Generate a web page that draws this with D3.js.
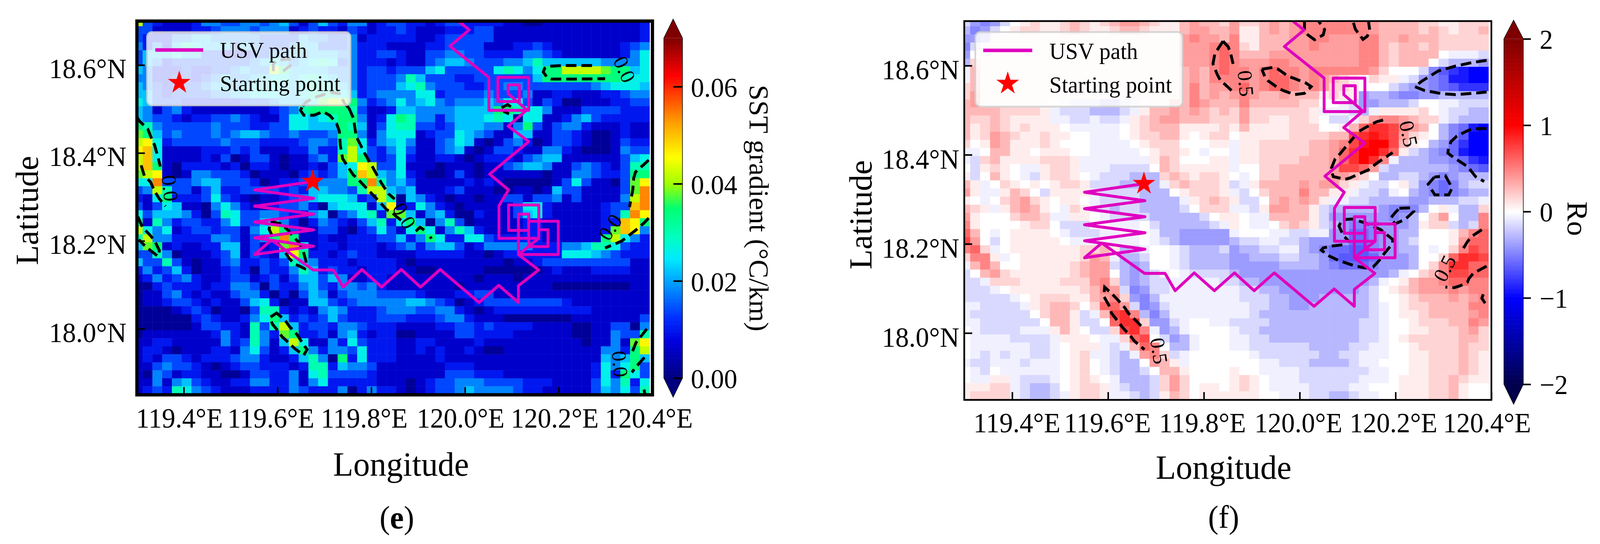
<!DOCTYPE html>
<html><head><meta charset="utf-8">
<script src="https://cdn.jsdelivr.net/npm/d3@7/dist/d3.min.js"></script>
<style>html,body{margin:0;padding:0;background:#fff;overflow:hidden;width:100%;height:100%}svg{display:block;width:100vw;height:100vh}text{font-family:"Liberation Serif","Times New Roman",serif;fill:#000}</style>
</head><body><svg id="c" viewBox="0 0 4213 1393" preserveAspectRatio="none"></svg>
<script>
// ---------- data ----------
const lonTicks=[119.4,119.6,119.8,120.0,120.2,120.4];
const latTicks=[18.0,18.2,18.4,18.6];
const sstTicks=[0,0.02,0.04,0.06];
const roTicks=[-2,-1,0,1,2];
const lonDomain=[119.3,120.4];
const latDomain=[17.85,18.7];
const gridLon0=119.2915, gridLat0=18.7066, gridDLon=0.0208, gridDLat=0.0182;

// SST gradient: one hex digit per cell, value = (digit + 0.5) * 0.004 degC/km. Left 27 cols | right 26 cols.
const sstRows=[
"a32111244334434531353244123|32212332222110011111111112",
"331111223444344412322132122|32111222331111111111111112",
"322244554444433335443341222|22112333331111111111111112",
"424257655535433345533342221|11122333311122321111111234",
"355565533222334444555442233|21133443322224432111111246",
"354233333333456545676342221|21134554333445755555544446",
"54222322334544a855554442332|33356333336764688aaaa98856",
"442233234544556656765442333|47533322333333588888888766",
"543223345545656556776542333|56743332233443333333456665",
"553233334455666556777652344|44662333343334112211122344",
"65333222222333455569aa84234|64564344454663132001112233",
"541342111111112347888873112|55444455558876641113333222",
"543321223343211366567884126|87442455567606611245322222",
"874333334333223366555875136|77332355544148313442111211",
"985343334345543343334884146|66123365431155113321001211",
"ab6233333433322223443796245|64113465101342013321001322",
"bc61111222323111224227a6324|63113451013321144210001433",
"ac61111213013310113429a8323|62112210122213455111111356",
"ac810222212022101121356ba33|61110111011345541134321377",
"9ab10144333201110232358ca54|62100131011111101144322388",
"66d333455333201223344488d74|5311111212100000136311039b",
"34a733135223333232554437aa5|4511123111001101533111139d",
"2168222363210112345666523a7|054210110113313341311114ad",
"31365110464211233420566615b|126421011111366211111233cd",
"635554203763344322450346729|951452002111356211111237db",
"817423322463356420243213572|68504730111112211111122cb8",
"a6461233233146a831133102363|16861475211112211111129cb4",
"7a4422224431348d81121122233|5248622663222221111118a642",
"5981211225513129d6122122212|34245531244444222445776322",
"3374011123513215b8221232211|11222221101222222666543222",
"533731011342232375422212222|10111111111011233333333311",
"242352011232032247523221222|11001111100000012111222211",
"124234211233123135535411221|11111111011101111111111111",
"002322212244303224532443421|11111101111111110000000011",
"011342121134420203541344433|33211122331111111111111111",
"011233212113562011553234444|45543201233333333211111111",
"000012320110377212145422234|44334421012222222222111111",
"000000232112468523235322233|32223442111000000011111113",
"000000133221737a52332443222|11112233232222111100113304",
"011111112421742982231452122|00111133222211111100114337",
"1122111114237415a6114263222|1122111121111111111011419b",
"122101112214631258424436222|1121211210011111111114428a",
"121332122234421125740826222|11112111111111111111154585",
"113433210123322212772544311|11111222111111111111264683",
"104312211001332241673333211|11111333222111111111262863",
"114145321122442241462222211|10123344433332221111364726",
"123276432111222243222402422|10123345444432211111354637"];

// Rossby number: one symbol per cell, decoded through roLevels. Left 27 cols | right 26 cols.
const roSymbols="JIHGFEDCBA0123456789a";
const roLevels=[-1,-0.9,-0.8,-0.65,-0.58,-0.48,-0.39,-0.28,-0.15,-0.06,0,0.07,0.17,0.28,0.38,0.48,0.6,0.72,0.82,0.92,1];
const roRows=[
"BDEDB0121123212344321134332|42234345555555433332211222",
"CEDB01221123211233211134433|41134345555555433332321223",
"DDC111111111111111111145443|51133344554445533433322222",
"EB1111111111111111111144456|52133344544445532332322222",
"D01111111111111111111144456|5333444444444553233330AAAB",
"C21111111111111111111144456|544455444444455323330BCCCD",
"A31111111111111111111134356|5545655455555542000BEGHIJJ",
"A31111111111111111111134355|55456654543210211ABDEFIIJJ",
"231111111111111111111135344|5645665454221000BCDDEFGHHH",
"241111111111111111111135343|4543343331211DCCDEEDDCCCCC",
"3411111110ABBBCCBA011335433|35333332200ABDDCCCB00AABBB",
"333322221ABBBCCCBA133434323|242222221AAABCA111120ABBCC",
"322321111AABBABBA1234433322|2422112210BBA24554322ABCCC",
"31232121110AAAAA01233311112|131111222001368875430CEFIJ",
"3124321121100AAA01223310122|011111222233789874210CEGJJ",
"2014311121000AAAA0122200011|A1122222334579aa7310CDFHJJ",
"AA03311011100AAAAA012210A00|A112222233468aa861BCDEFIJJ",
"AB2311112221AAAAAAA13200011|A112222333468a85ACCCDDEFHI",
"0B1210AA1221AAABBBB03211111|A00223333347764BCCCCCCDEFG",
"1B0310AB12210ABBBCCC2321221|0A0223333344320CCBBCDEDCCC",
"31A0210101221BBBCCCCA232221|BA13333434421ABB01BDEFECBB",
"41AA1320B1111ABBBBCCC012221|AB0233353311ABBCA0CDEFEDCC",
"10A0234210110ABBBBCCCCA1232|1BB0343431AABBCCCCDDCCCBBA",
"321A134310A21ABCBBCCCCB0222|AAB144331BCCCCCDEEEC01ACC2",
"410002332AA110ABBBBCCCCCB01|10AA33331BDDDDDDEDC0240CC5",
"5100001220BBB00AAA0BCCCCCBA|10AA02321BCDEEEDDDC122BCB5",
"630A011110ABBBAA0A0ACCDDDDD|A000AABBAADDFFEDDCC0001356",
"740B0111110AAA0AAA0ABCDDDDD|CBBAABBCDDDDFFEDDCB0001466",
"562A011111112231CBA00ABCCCB|DCCBBAACDEFFGGEDDCC0A02576",
"2551A0111111243ACCB00ABCCCC|DDCCCBBCCDFGGGFDDDC0026887",
"A35300111112344BCDC00ABCCCC|DDDDDCCCCDEFFFEDDDC0258866",
"B034211111123440CDCBA0ABBBB|CDDDDDDDDDDDDDDDCA02357766",
"BBA2221111222452CDCBBAAAAAB|BCCDDDDDDDDDDDCA0134456655",
"BBBA011111112354BEDBBAAAAAA|ABBCCDDDDDDDDCB01234445455",
"BBBBBA01222113452DECAAAAAAA|ABBBCCDDDCCCCCB00123334345",
"AABBBBA1233202664BEDBAAAAAA|AABBCCDDCCCCCCBA0122333355",
"ABBBBBB02331BA3785CECAAAAAA|AABCCCCCCCCCCCBA0112333345",
"AABBBBBB0331BB06882DDBA00AA|BBBBCCCCCCCCCBBA0012223354",
"0ABBBBAAA1310BB2785ADCA0000|ABBCCCCCCCCCCBBA0011222342",
"0AAAABBBBA1110AA2670BDCA000|AABBCCCCCCCCCBBA0122222332",
"0AAAAAABBA0111ABA3650CCA000|AABBBBBBCCCCBBAA0012222322",
"0ABABAABBA012AABCA452BA0000|00ABBBBBBCCBBAAA0011222321",
"ABBAAABAAA0120ABCC0431A0000|000AABBBCCCCBAA00011222321",
"0AB0AAAAAA0120ABCCB03310000|100AAAABBBBBBBAA0011222321",
"0AA11ABBBA01210ACCCB2420000|1210AAABBBBBBAAA0111223211",
"11122ABCCB01221ABCCB2420110|1210AAAABBBBAA000111223100",
"12222ABCCBA1221AABCB1320111|11100AAABBCCBAA00111223100"];

const pathLon=[119.675,119.551,119.677,119.551,119.677,119.551,119.677,119.551,119.677,119.551,119.587,119.676,119.719,119.74,119.78,119.822,119.864,119.905,119.947,120.03,120.072,120.114,120.114,120.157,120.114,120.1575,120.1575,120.177,120.177,120.136,120.136,120.199,120.199,120.114,120.114,120.136,120.136,120.093,120.093,120.1575,120.1575,120.0725,120.0725,120.093,120.0526,120.136,120.092,120.132,120.092,120.092,120.116,120.116,120.07,120.07,120.136,120.136,120.051,120.051,119.968,120.009,119.988,119.97];
const pathLat=[18.335,18.316,18.297,18.279,18.261,18.243,18.225,18.207,18.188,18.169,18.202,18.134,18.134,18.095,18.135,18.095,18.135,18.095,18.135,18.06,18.099,18.06,18.098,18.134,18.169,18.206,18.2255,18.2255,18.187,18.187,18.2447,18.2447,18.169,18.169,18.261,18.261,18.224,18.224,18.2818,18.2818,18.206,18.206,18.28,18.316,18.352,18.426,18.461,18.498,18.535,18.555,18.555,18.517,18.517,18.572,18.572,18.497,18.497,18.572,18.643,18.68,18.698,18.72];
const startPoint=[119.675,18.335];

const eContours=[
[[119.300,18.482],[119.305,18.473],[119.323,18.455],[119.332,18.431],[119.338,18.417],[119.345,18.390],[119.350,18.369]],
[[119.309,18.372],[119.316,18.348],[119.329,18.334],[119.338,18.313],[119.347,18.297],[119.361,18.279]],
[[119.302,18.255],[119.312,18.231],[119.329,18.212],[119.338,18.200],[119.348,18.178],[119.345,18.165],[119.327,18.180],[119.316,18.190],[119.304,18.203]],
[[119.652,18.504],[119.649,18.497],[119.656,18.486],[119.678,18.486],[119.697,18.494],[119.712,18.485],[119.726,18.467],[119.732,18.449],[119.734,18.417],[119.739,18.387],[119.750,18.369],[119.761,18.351],[119.772,18.340],[119.788,18.322],[119.815,18.292],[119.833,18.271],[119.844,18.265],[119.854,18.255],[119.872,18.240]],
[[119.895,18.222],[119.904,18.231],[119.917,18.222]],
[[119.926,18.210],[119.928,18.205]],
[[119.752,18.503],[119.762,18.479],[119.768,18.437],[119.775,18.423],[119.786,18.399],[119.804,18.366],[119.822,18.331],[119.837,18.307],[119.850,18.295]],
[[119.752,18.503],[119.744,18.511],[119.732,18.535],[119.714,18.538],[119.678,18.526],[119.661,18.516],[119.652,18.504]],
[[119.591,18.586],[119.591,18.603],[119.602,18.611],[119.625,18.614],[119.631,18.602],[119.612,18.586]],
[[119.585,18.242],[119.591,18.243],[119.607,18.239],[119.623,18.224],[119.632,18.212],[119.645,18.197],[119.654,18.180],[119.661,18.153],[119.658,18.137],[119.636,18.148],[119.625,18.160],[119.611,18.183],[119.600,18.194],[119.587,18.215],[119.582,18.227],[119.585,18.242]],
[[119.591,18.031],[119.598,18.036],[119.616,18.020],[119.625,18.006],[119.641,17.988],[119.649,17.975],[119.663,17.953],[119.656,17.940],[119.638,17.954],[119.627,17.965],[119.609,17.983],[119.602,17.994],[119.589,18.011],[119.584,18.026],[119.591,18.031]],
[[120.271,18.599],[120.208,18.599],[120.176,18.597],[120.170,18.593],[120.167,18.584],[120.176,18.571],[120.185,18.568],[120.223,18.568],[120.299,18.569]],
[[120.078,18.503],[120.091,18.510],[120.101,18.503]],
[[120.082,18.495],[120.094,18.489]],
[[120.392,18.384],[120.382,18.374],[120.364,18.357],[120.360,18.343],[120.358,18.316],[120.351,18.277]],
[[120.392,18.252],[120.383,18.242],[120.365,18.225],[120.353,18.215],[120.335,18.200],[120.322,18.194],[120.299,18.184]],
[[120.388,18.000],[120.374,17.981],[120.365,17.969],[120.356,17.945]],
[[120.383,17.935],[120.367,17.916],[120.356,17.901]],
[[120.382,17.862],[120.384,17.850]]];
const fContours=[
[[120.010,18.705],[120.010,18.680],[120.017,18.669],[120.031,18.658],[120.049,18.669],[120.052,18.681],[120.042,18.696],[120.036,18.705]],
[[120.143,18.705],[120.146,18.680],[120.141,18.666],[120.132,18.659],[120.116,18.682],[120.112,18.697]],
[[119.840,18.655],[119.851,18.642],[119.856,18.627],[119.861,18.604]],
[[119.840,18.655],[119.823,18.627],[119.819,18.604],[119.828,18.580],[119.835,18.566],[119.845,18.557],[119.865,18.537]],
[[119.921,18.592],[119.944,18.596],[119.955,18.592],[119.976,18.576],[119.987,18.572],[120.013,18.561],[120.024,18.553],[120.010,18.538],[119.989,18.535],[119.966,18.544],[119.955,18.550],[119.934,18.566],[119.927,18.576],[119.921,18.592]],
[[120.39,18.612],[120.360,18.607],[120.325,18.599],[120.289,18.588],[120.256,18.566],[120.240,18.553],[120.261,18.544],[120.298,18.537],[120.325,18.535],[120.373,18.539],[120.39,18.541]],
[[120.174,18.478],[120.160,18.474],[120.137,18.461],[120.123,18.452],[120.109,18.434],[120.100,18.423],[120.084,18.402],[120.074,18.391],[120.065,18.367],[120.070,18.351],[120.095,18.345],[120.105,18.348],[120.130,18.360],[120.143,18.366],[120.162,18.382],[120.194,18.405]],
[[120.39,18.459],[120.360,18.458],[120.348,18.453],[120.328,18.442],[120.316,18.430],[120.311,18.417],[120.309,18.404],[120.320,18.395],[120.341,18.380],[120.351,18.373],[120.367,18.351],[120.385,18.340]],
[[120.281,18.350],[120.268,18.334],[120.282,18.310],[120.311,18.310],[120.318,18.326],[120.304,18.353],[120.281,18.350]],
[[120.208,18.280],[120.233,18.281],[120.238,18.273],[120.220,18.255],[120.199,18.245],[120.190,18.258],[120.199,18.270],[120.208,18.280]],
[[120.089,18.198],[120.065,18.195],[120.049,18.191],[120.045,18.186],[120.063,18.172],[120.081,18.163],[120.114,18.151],[120.137,18.146],[120.153,18.148],[120.166,18.163],[120.176,18.178],[120.194,18.201],[120.194,18.210],[120.169,18.232],[120.134,18.248],[120.109,18.256],[120.088,18.254],[120.082,18.240],[120.091,18.219],[120.104,18.204]],
[[120.380,18.232],[120.358,18.216],[120.350,18.205],[120.337,18.182]],
[[120.39,18.150],[120.362,18.134],[120.353,18.122],[120.350,18.114],[120.335,18.106],[120.323,18.102],[120.304,18.103]],
[[120.383,18.087],[120.380,18.078],[120.387,18.067]],
[[119.669,18.016],[119.660,18.026],[119.642,18.045],[119.635,18.057],[119.619,18.076],[119.609,18.087],[119.593,18.103],[119.591,18.083],[119.604,18.058],[119.607,18.045],[119.623,18.023],[119.630,18.013],[119.648,17.992],[119.655,17.982],[119.676,17.963]]];
// contour labels: text, lon, lat, rotation
const eLabels=[["0.0",119.37,18.32,84],["0.0",120.34,18.59,65],["0.0",119.87,18.257,60],["0.0",120.31,18.231,-56],["0.0",120.33,17.92,85]];
const fLabels=[["0.5",119.887,18.56,85],["0.5",120.227,18.447,78],["0.5",119.706,17.96,81],["0.5",120.303,18.145,-63]];

// ---------- colours ----------
const jet=d3.scaleLinear()
 .domain([0,0.0077,0.0125,0.0245,0.029,0.035,0.04,0.0455,0.0525,0.0623,0.07])
 .range(["#00007f","#0000e0","#0030ff","#00eaff","#00ffc0","#00ff70","#a0ff00","#ffff00","#ffa000","#ff0000","#7f0000"]).clamp(true);
const seismic=d3.scaleLinear().domain([-2,-1,0,1,2]).range(["#00004c","#0000ff","#ffffff","#ff0000","#7f0000"]).clamp(true);
const decodeSst=ch=>(parseInt(ch,16)+0.5)*0.004;
const decodeRo=ch=>roLevels[roSymbols.indexOf(ch)];

const svg=d3.select("#c");
svg.append("rect").attr("width",4213).attr("height",1393).attr("fill","#fff");
const INK="#df00bf";

function panel(o){
 const x=d3.scaleLinear().domain(lonDomain).range(o.xr), y=d3.scaleLinear().domain(latDomain).range(o.yr);
 const g=svg.append("g");
 const id="clip"+o.key;
 g.append("clipPath").attr("id",id).append("rect").attr("x",o.xr[0]).attr("y",o.yr[1]).attr("width",o.xr[1]-o.xr[0]).attr("height",o.yr[0]-o.yr[1]);
 const plot=g.append("g").attr("clip-path",`url(#${id})`);
 // heat cells
 const cells=[];
 o.rows.forEach((row,r)=>{
  const [l,rt]=row.split("|");
  [...l].slice(0,27).forEach((ch,c)=>cells.push({r,c,v:o.decode(ch)}));
  [...rt].slice(0,26).forEach((ch,c)=>cells.push({r,c:c+27,v:o.decode(ch)}));
 });
 plot.append("g").selectAll("rect").data(cells).join("rect")
  .attr("x",d=>x(gridLon0+d.c*gridDLon)).attr("y",d=>y(gridLat0-d.r*gridDLat))
  .attr("width",d=>x(gridLon0+(d.c+1)*gridDLon)-x(gridLon0+d.c*gridDLon)+0.5)
  .attr("height",d=>y(gridLat0-(d.r+1)*gridDLat)-y(gridLat0-d.r*gridDLat)+0.5)
  .attr("fill",d=>o.color(d.v));
 // contours
 const line=d3.line().x(d=>x(d[0])).y(d=>y(d[1]));
 plot.append("g").selectAll("path").data(o.contours).join("path").attr("d",line)
  .attr("fill","none").attr("stroke","#000").attr("stroke-width",7.5).attr("stroke-dasharray","28 13");
 plot.append("g").selectAll("text").data(o.labels).join("text")
  .attr("transform",d=>`translate(${x(d[1])},${y(d[2])}) rotate(${d[3]})`)
  .attr("text-anchor","middle").attr("dy","0.33em").style("font-size","54px").text(d=>d[0]);
 // path
 const pts=pathLon.map((v,i)=>[v,pathLat[i]]);
 plot.append("path").attr("d",line(pts)).attr("fill","none").attr("stroke",INK).attr("stroke-width",7.5).attr("stroke-linejoin","round");
 const star=d3.symbol().type(d3.symbolStar).size(1100);
 g.append("path").attr("d",star()).attr("transform",`translate(${x(startPoint[0])},${y(startPoint[1])})`).attr("fill","#ff0000");
 // legend
 const L=o.legend;
 g.append("rect").attr("x",L.x0).attr("y",L.y0).attr("width",L.x1-L.x0).attr("height",L.y1-L.y0).attr("rx",13)
  .attr("fill","#fff").attr("fill-opacity",0.8).attr("stroke","#ccc").attr("stroke-opacity",0.8).attr("stroke-width",4.5);
 g.append("line").attr("x1",L.lx0).attr("x2",L.lx1).attr("y1",L.ly).attr("y2",L.ly).attr("stroke",INK).attr("stroke-width",9);
 g.append("path").attr("d",star()).attr("transform",`translate(${(L.lx0+L.lx1)/2},${L.sy})`).attr("fill","#ff0000");
 g.append("text").attr("x",L.tx).attr("y",L.b1).style("font-size",L.fs+"px").text("USV path");
 g.append("text").attr("x",L.tx).attr("y",L.b2).style("font-size",L.fs+"px").text("Starting point");
 // axes
 const ax=g.append("g").attr("transform",`translate(0,${o.yr[0]})`)
  .call(d3.axisBottom(x).tickValues(lonTicks).tickSizeInner(-20).tickSizeOuter(0).tickFormat(d=>d.toFixed(1)+"°E"));
 const ay=g.append("g").attr("transform",`translate(${o.xr[0]},0)`)
  .call(d3.axisLeft(y).tickValues(latTicks).tickSizeInner(-21).tickSizeOuter(0).tickFormat(d=>d.toFixed(1)+"°N"));
 [ax,ay].forEach(a=>{a.select(".domain").remove();a.selectAll("line").attr("stroke","#000").attr("stroke-width",4);
  a.selectAll("text").style("font-size","71px").style("font-family",'"Liberation Serif"').attr("fill","#000");});
 ax.selectAll("text").attr("y",o.xLabelBase-o.yr[0]).attr("dy",0).attr("dx",(d,i)=>o.xLabelDx[i]);
 ay.selectAll("text").attr("x",o.yLabelEnd-o.xr[0]).attr("dy",o.yLabelDy);
 // frame
 g.append("rect").attr("x",o.xr[0]).attr("y",o.yr[1]).attr("width",o.xr[1]-o.xr[0]).attr("height",o.yr[0]-o.yr[1])
  .attr("fill","none").attr("stroke","#000").attr("stroke-width",o.frame);
 // axis titles
 g.append("text").attr("x",o.lonX).attr("y",o.lonY).attr("text-anchor","middle").style("font-size","87px").text("Longitude");
 g.append("text").attr("transform",`translate(${o.latX},${o.latY}) rotate(-90)`).attr("text-anchor","middle").style("font-size","84px").text("Latitude");
 // caption
 const cap=g.append("text").attr("x",o.lonX-o.capDx).attr("y",o.capY).attr("text-anchor","middle").style("font-size","82px");
 cap.append("tspan").text("(");
 cap.append("tspan").attr("font-weight",o.capBold?"bold":"normal").text(o.capLetter);
 cap.append("tspan").text(")");
 // colourbar
 const C=o.cb, cy=d3.scaleLinear().domain(C.domain).range(C.range);
 const n=240, cb=g.append("g");
 cb.selectAll("rect").data(d3.range(n)).join("rect")
  .attr("x",C.x0).attr("width",C.x1-C.x0)
  .attr("y",i=>cy(C.domain[0]+(C.domain[1]-C.domain[0])*(i+1)/n))
  .attr("height",(C.range[0]-C.range[1])/n+0.6)
  .attr("fill",i=>o.color(C.domain[0]+(C.domain[1]-C.domain[0])*(i+0.5)/n));
 const xm=(C.x0+C.x1)/2;
 cb.append("path").attr("d",`M${C.x0},${C.range[1]}L${xm},${C.tip[1]}L${C.x1},${C.range[1]}Z`).attr("fill",o.color(C.domain[1]));
 cb.append("path").attr("d",`M${C.x0},${C.range[0]}L${xm},${C.tip[0]}L${C.x1},${C.range[0]}Z`).attr("fill",o.color(C.domain[0]));
 cb.append("path").attr("d",`M${C.x0},${C.range[0]}L${xm},${C.tip[0]}L${C.x1},${C.range[0]}L${C.x1},${C.range[1]}L${xm},${C.tip[1]}L${C.x0},${C.range[1]}Z`)
  .attr("fill","none").attr("stroke","#000").attr("stroke-width",1.5);
 const aC=cb.append("g").attr("transform",`translate(${C.x1},0)`)
  .call(d3.axisRight(cy).tickValues(C.ticks).tickSizeInner(C.tick).tickSizeOuter(0).tickFormat(C.fmt));
 aC.select(".domain").remove();
 aC.selectAll("line").attr("stroke","#000").attr("stroke-width",4);
 aC.selectAll("text").style("font-size","70px").style("font-family",'"Liberation Serif"').attr("fill","#000").attr("x",C.tx-C.x1).attr("dy",C.dy);
 g.append("text").attr("transform",`translate(${C.lx},${C.ly}) rotate(90)`).attr("text-anchor","middle").style("font-size",C.lfs+"px").text(C.label);
}

panel({key:"e",xr:[360.5,1718],yr:[1011,54],rows:sstRows,decode:decodeSst,color:jet,contours:eContours,labels:eLabels,frame:8.5,
 legend:{x0:387,x1:923,y0:82,y1:270,lx0:409,lx1:535,ly:128,sy:212,tx:579,b1:148,b2:233,fs:58},
 xLabelBase:1095,xLabelDx:[-12,-18,-19,-12,-11,-10],yLabelEnd:333,yLabelDy:"0.465em",lonX:1056,lonY:1218,latX:100,latY:539,capY:1353,capDx:11,capLetter:"e",capBold:true,
 cb:{domain:[0,0.07],range:[968,97.5],x0:1748,x1:1797,tip:[1017,49],ticks:sstTicks,tick:-24,fmt:d=>d.toFixed(2),tx:1819,dy:"0.37em",lx:1974,ly:533,label:"SST gradient (°C/km)",lfs:72}});
panel({key:"f",xr:[2539,3927],yr:[1024,54],rows:roRows,decode:decodeRo,color:seismic,contours:fContours,labels:fLabels,frame:4.5,
 legend:{x0:2568,x1:3114,y0:82,y1:273,lx0:2589,lx1:2718,ly:129,sy:214,tx:2763,b1:151,b2:237,fs:59},
 xLabelBase:1107,xLabelDx:[12,-2,-4,-4,-6,-12],yLabelEnd:2526,yLabelDy:"0.49em",lonX:3222,lonY:1226,latX:2295,latY:550,capY:1352,capDx:0,capLetter:"f",capBold:false,
 cb:{domain:[-2,2],range:[984,99.5],x0:3960,x1:4011,tip:[1035,51.5],ticks:roTicks,tick:20,fmt:d=>d3.format("d")(d),tx:4054,dy:"0.35em",lx:4128,ly:560,label:"Ro",lfs:76}});
</script></body></html>
